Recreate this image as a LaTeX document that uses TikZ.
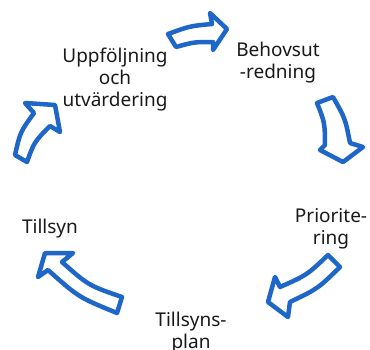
\documentclass[tikz,border=0pt]{standalone}
\usepackage{fontspec}
\setmainfont{Noto Sans}
\definecolor{arrowblue}{RGB}{30,102,200}
\tikzset{
  blockarrow/.style={draw=arrowblue, line width=4.5pt, line join=round, fill=white},
  steptext/.style={inner sep=0pt, anchor=base, font=\fontsize{19}{22}\selectfont, text=black!90}
}
\begin{document}
\begin{tikzpicture}[x=1pt,y=-1pt]
\useasboundingbox (0,0) rectangle (370,349);
% arrow 1 (top)
\draw[blockarrow] (168,34) .. controls (190,26) .. (212,24) -- (210,13) -- (227,29) -- (213,50) -- (213,42) .. controls (194,42) .. (176,47) -- cycle;
% arrow 2 (right)
\draw[blockarrow] (317,103) -- (333,97) .. controls (345.3,118.6) .. (350,143) -- (363,147) -- (343,162) -- (320,150) -- (325,145) .. controls (324.8,122.6) .. (317,103) -- cycle;
% arrow 3 (bottom right)
\draw[blockarrow] (328,255) -- (340,267) .. controls (317.9,288.6) .. (290,302) -- (288,317) -- (268,302) -- (275,277) -- (280,287) .. controls (306.9,275.1) .. (328,255) -- cycle;
% arrow 4 (bottom left)
\draw[blockarrow] (122,297) .. controls (88.5,285.5) .. (62,262) -- (73,253) -- (45,253) -- (38,277) -- (48,270) .. controls (78.8,297.4) .. (117,313) -- cycle;
% arrow 5 (left)
\draw[blockarrow] (15,155) .. controls (20.2,132) .. (34,113) -- (25,103) -- (55,105) -- (60,132) -- (50,126) .. controls (34.2,142) .. (27,162) -- cycle;
% texts
\node[steptext] (upp) at (115,62) {\begin{tabular}[t]{@{}c@{}}Uppföljning\\och\\utvärdering\end{tabular}};
\node[steptext] (beh) at (278,56) {\begin{tabular}[t]{@{}c@{}}Behovsut\\-redning\end{tabular}};
\node[steptext] (pri) at (331,222) {\begin{tabular}[t]{@{}c@{}}Priorite-\\ring\end{tabular}};
\node[steptext] (till) at (50,233) {Tillsyn};
\node[steptext] (plan) at (191,326) {\begin{tabular}[t]{@{}c@{}}Tillsyns-\\plan\end{tabular}};
\end{tikzpicture}
\end{document}
